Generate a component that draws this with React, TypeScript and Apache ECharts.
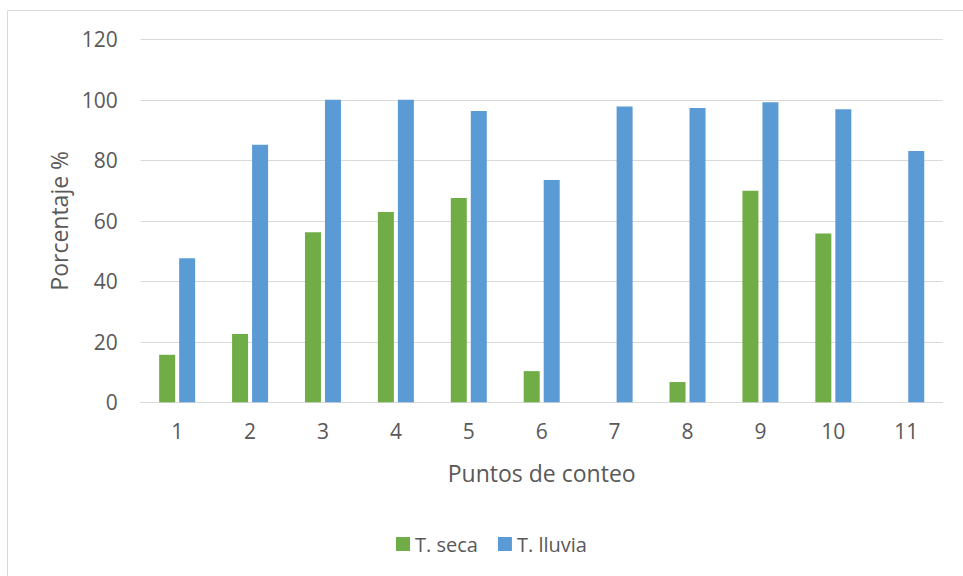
import React, { useEffect, useRef } from "react";
import * as echarts from "echarts";

const categories = ["1", "2", "3", "4", "5", "6", "7", "8", "9", "10", "11"];
const seca = [15.7, 22.6, 56.2, 62.9, 67.5, 10.3, 0, 6.7, 69.9, 55.8, 0];
const lluvia = [47.6, 85.1, 100, 100, 96.3, 73.5, 97.8, 97.3, 99.2, 96.9, 83.1];
const seriesNames = ["T. seca", "T. lluvia"];

const FONT = "'Open Sans', 'Noto Sans', sans-serif";
const TXT = "#595959";

export default function App() {
  const ref = useRef<HTMLDivElement>(null);
  useEffect(() => {
    const chart = echarts.init(ref.current!, null, { renderer: "svg" });
    chart.setOption({
      animation: false,
      backgroundColor: "#ffffff",
      textStyle: { fontFamily: FONT },
      graphic: [
        {
          type: "rect",
          shape: { x: 7.5, y: 10.5, width: 1000, height: 1000 },
          style: { fill: "none", stroke: "#d9d9d9", lineWidth: 1 },
          silent: true,
        },
      ],
      grid: { left: 140.7, right: 20.3, top: 39.3, bottom: 173.7, containLabel: false },
      legend: {
        data: seriesNames,
        left: 391,
        top: 529,
        itemWidth: 14,
        itemHeight: 14,
        itemGap: 20,
        icon: "rect",
        textStyle: { color: TXT, fontSize: 20, fontFamily: FONT },
      },
      xAxis: {
        type: "category",
        data: categories,
        name: "Puntos de conteo",
        nameLocation: "middle",
        nameGap: 59,
        nameTextStyle: { color: TXT, fontSize: 23, fontFamily: FONT },
        axisLine: { lineStyle: { color: "#d9d9d9", width: 1 } },
        axisTick: { show: false },
        axisLabel: { color: TXT, fontSize: 21, margin: 18, fontFamily: FONT },
      },
      yAxis: {
        type: "value",
        min: 0,
        max: 120,
        interval: 20,
        name: "Porcentaje %",
        nameLocation: "middle",
        nameGap: 70,
        nameTextStyle: { color: TXT, fontSize: 23, fontFamily: FONT },
        axisLine: { show: false },
        axisTick: { show: false },
        axisLabel: { color: TXT, fontSize: 21, margin: 23, fontFamily: FONT },
        splitLine: { lineStyle: { color: "#d9d9d9", width: 1 } },
      },
      series: [
        {
          name: seriesNames[0],
          type: "bar",
          data: seca,
          barWidth: 16,
          barGap: "25%",
          itemStyle: { color: "#70ad47" },
        },
        {
          name: seriesNames[1],
          type: "bar",
          data: lluvia,
          barWidth: 16,
          barGap: "25%",
          itemStyle: { color: "#5b9bd5" },
        },
      ],
    });
    return () => chart.dispose();
  }, []);
  return (
    <div
      ref={ref}
      style={{ position: "fixed", left: 0, top: 0, width: 963, height: 576 }}
    />
  );
}
